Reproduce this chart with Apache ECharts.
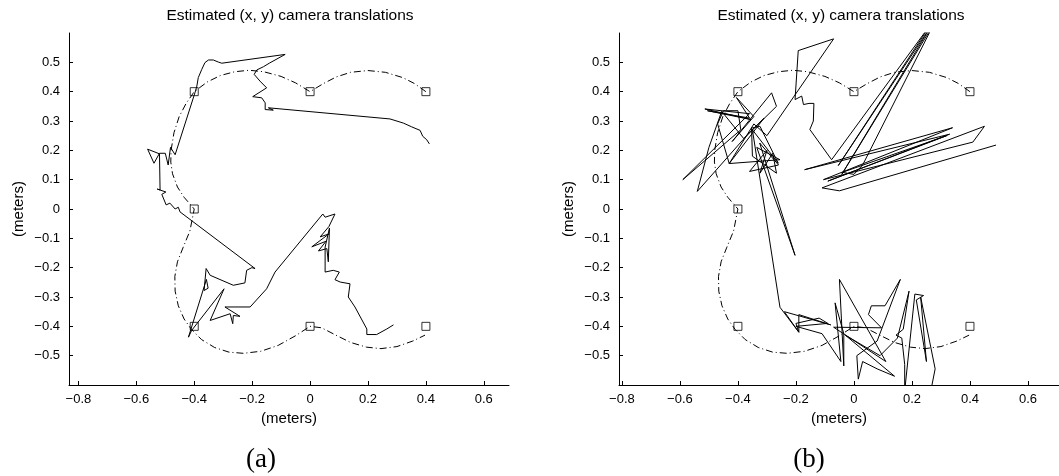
<!DOCTYPE html>
<html>
<head>
<meta charset="utf-8">
<script src="https://cdn.jsdelivr.net/npm/echarts@6/dist/echarts.min.js"></script>
<style>
  html, body { margin: 0; padding: 0; background: #fff; }
  #chart { width: 1059px; height: 476px; }
</style>
</head>
<body>
<div id="chart"></div>
<script>
const titleText = 'Estimated (x, y) camera translations';
const axisName = '(meters)';
const panelLabels = ['(a)', '(b)'];

// tick positions
const xTicks = [-0.8, -0.6, -0.4, -0.2, 0, 0.2, 0.4, 0.6];
const yTicks = [-0.5, -0.4, -0.3, -0.2, -0.1, 0, 0.1, 0.2, 0.3, 0.4, 0.5];

// key positions of the camera rig (squares)
const markers = [[-0.4, 0.4], [0, 0.4], [0.4, 0.4], [-0.4, 0], [-0.4, -0.4], [0, -0.4], [0.4, -0.4]];

// planned path (dash-dot)
const plannedPath = [
  [0.4, 0.4], [0.36, 0.428], [0.32, 0.448], [0.26, 0.466], [0.2, 0.472], [0.14, 0.466], [0.09, 0.45], [0.045, 0.427], [0, 0.4],
  [-0.05, 0.43], [-0.1, 0.452], [-0.16, 0.468], [-0.21, 0.473], [-0.26, 0.468], [-0.31, 0.455], [-0.355, 0.433], [-0.4, 0.4],
  [-0.428, 0.36], [-0.452, 0.315], [-0.47, 0.26], [-0.48, 0.2], [-0.481, 0.16], [-0.475, 0.12], [-0.458, 0.075], [-0.435, 0.04], [-0.4, 0],
  [-0.415, -0.075], [-0.438, -0.13], [-0.458, -0.18], [-0.467, -0.23], [-0.466, -0.28], [-0.455, -0.33], [-0.435, -0.375], [-0.41, -0.41],
  [-0.375, -0.445], [-0.33, -0.472], [-0.28, -0.488], [-0.23, -0.492], [-0.17, -0.485], [-0.11, -0.465], [-0.05, -0.432], [0, -0.4],
  [0.04, -0.405], [0.085, -0.428], [0.14, -0.455], [0.195, -0.471], [0.245, -0.476], [0.3, -0.469], [0.355, -0.45], [0.397, -0.43]
];

// estimated translations, panel (a)
const estimateA = [
  [0.412, 0.222], [0.403, 0.236], [0.389, 0.248], [0.38, 0.268], [0.351, 0.28], [0.322, 0.293], [0.276, 0.307],
  [-0.144, 0.345], [-0.127, 0.337], [-0.155, 0.339], [-0.155, 0.362], [-0.167, 0.379], [-0.198, 0.383], [-0.15, 0.413],
  [-0.173, 0.436], [-0.193, 0.459], [-0.184, 0.474], [-0.161, 0.485], [-0.141, 0.497], [-0.086, 0.527],
  [-0.305, 0.497], [-0.317, 0.501], [-0.334, 0.508], [-0.351, 0.508], [-0.363, 0.499], [-0.374, 0.476], [-0.386, 0.448],
  [-0.391, 0.419], [-0.397, 0.398],
  [-0.466, 0.185], [-0.482, 0.21], [-0.49, 0.15], [-0.5, 0.19], [-0.52, 0.19], [-0.539, 0.156], [-0.561, 0.204], [-0.52, 0.188],
  [-0.518, 0.065], [-0.528, 0.068], [-0.498, 0.058], [-0.512, 0.05], [-0.497, 0.014], [-0.484, 0.02], [-0.466, 0.0],
  [-0.455, 0.006], [-0.449, -0.01],
  [-0.19, -0.203], [-0.201, -0.2], [-0.219, -0.209], [-0.225, -0.252], [-0.265, -0.26], [-0.345, -0.226], [-0.359, -0.203],
  [-0.366, -0.278], [-0.352, -0.27], [-0.358, -0.24], [-0.42, -0.437], [-0.409, -0.414], [-0.297, -0.272], [-0.345, -0.38],
  [-0.276, -0.357], [-0.267, -0.391], [-0.265, -0.363], [-0.242, -0.366], [-0.294, -0.334], [-0.207, -0.334], [-0.15, -0.272],
  [-0.121, -0.215],
  [0.044, -0.017], [0.052, -0.028], [0.086, -0.017], [0.065, -0.06], [0.035, -0.095], [0.065, -0.085], [0.006, -0.129],
  [0.055, -0.11], [0.029, -0.143], [0.058, -0.135], [0.063, -0.18], [0.067, -0.065], [0.052, -0.13], [0.052, -0.215],
  [0.08, -0.209], [0.101, -0.215], [0.086, -0.241], [0.104, -0.249], [0.138, -0.255], [0.132, -0.3], [0.155, -0.334],
  [0.196, -0.409], [0.196, -0.428], [0.23, -0.428], [0.265, -0.409], [0.288, -0.395]
];

// estimated translations, panel (b)
const estimateB = [
  [0.49, 0.218], [-0.05, 0.062], [-0.11, 0.072], [0.45, 0.282], [0.41, 0.228], [-0.105, 0.1], [0.34, 0.277], [-0.17, 0.134],
  [0.33, 0.255], [-0.09, 0.095], [0.32, 0.25], [-0.04, 0.125], [0.0, 0.118], [0.03, 0.15],
  [0.275, 0.63], [-0.042, 0.118], [0.27, 0.63], [-0.054, 0.148], [0.265, 0.63], [-0.077, 0.168],
  [-0.152, 0.271], [-0.14, 0.3], [-0.138, 0.36], [-0.155, 0.36], [-0.174, 0.356], [-0.18, 0.385], [-0.203, 0.373],
  [-0.192, 0.54], [-0.07, 0.58], [-0.3, 0.25],
  [-0.345, 0.29], [-0.43, 0.155], [-0.47, 0.29], [-0.45, 0.335], [-0.4, 0.335], [-0.39, 0.27], [-0.59, 0.1], [-0.36, 0.325],
  [-0.514, 0.341], [-0.355, 0.305], [-0.505, 0.335], [-0.36, 0.31], [-0.405, 0.38], [-0.345, 0.315], [-0.42, 0.23],
  [-0.284, 0.396], [-0.267, 0.35], [-0.37, 0.25], [-0.54, 0.06], [-0.5, 0.21], [-0.456, 0.333], [-0.38, 0.24], [-0.31, 0.31],
  [-0.43, 0.155], [-0.255, 0.168], [-0.335, 0.21], [-0.203, -0.158], [-0.325, 0.225], [-0.26, 0.15], [-0.36, 0.128],
  [-0.3, 0.2], [-0.324, 0.122], [-0.28, 0.19], [-0.267, 0.122], [-0.35, 0.18], [-0.353, 0.276], [-0.324, 0.282],
  [-0.261, 0.156], [-0.35, 0.27], [-0.255, -0.335],
  [-0.19, -0.42], [-0.24, -0.35], [-0.08, -0.395], [-0.19, -0.36], [-0.19, -0.42], [-0.2, -0.39], [-0.12, -0.372],
  [-0.09, -0.39], [-0.2, -0.4], [-0.11, -0.425], [-0.045, -0.52], [-0.065, -0.32], [-0.035, -0.425], [-0.035, -0.535],
  [-0.05, -0.24], [0.11, -0.52], [-0.07, -0.403], [0.095, -0.405], [0.05, -0.36], [0.06, -0.33], [0.107, -0.33],
  [0.16, -0.24], [0.08, -0.45], [0.01, -0.5], [0.015, -0.58], [0.03, -0.52], [0.08, -0.545], [0.14, -0.57], [-0.03, -0.43],
  [0.09, -0.5], [0.15, -0.44], [0.19, -0.28], [0.17, -0.41], [0.145, -0.43], [0.165, -0.44], [0.175, -0.53], [0.175, -0.62],
  [0.21, -0.29], [0.24, -0.295], [0.215, -0.31], [0.25, -0.52], [0.23, -0.3], [0.28, -0.545], [0.265, -0.62]
];

const xRanges = [[-0.8325, 0.687], [-0.81, 0.707]];
const yRange = [-0.6, 0.6];

const sans = 'Liberation Sans, Arial, Helvetica, sans-serif';

function tickText(v) {
  return String(+Number(v).toFixed(1)).replace('-', '\u2212');
}

function makeAxis(i, range, ticks, gap, margin) {
  return {
    gridIndex: i,
    type: 'value',
    min: range[0],
    max: range[1],
    name: axisName,
    nameLocation: 'middle',
    nameGap: gap,
    nameTextStyle: { fontFamily: sans, fontSize: 15, color: '#000' },
    axisLine: { onZero: false, lineStyle: { color: '#000', width: 1 } },
    axisTick: { inside: true, length: 4, customValues: ticks, lineStyle: { color: '#000' } },
    axisLabel: {
      color: '#000', fontFamily: sans, fontSize: 13, margin: margin,
      customValues: ticks, formatter: tickText
    },
    splitLine: { show: false }
  };
}

function panelSeries(i, estimate) {
  return [
    {
      type: 'line', xAxisIndex: i, yAxisIndex: i, data: plannedPath,
      symbol: 'none', clip: true,
      lineStyle: { color: '#000', width: 1, type: [7, 3, 1, 3] }
    },
    {
      type: 'line', xAxisIndex: i, yAxisIndex: i, data: estimate,
      symbol: 'none', clip: true,
      lineStyle: { color: '#000', width: 1 }
    },
    {
      type: 'scatter', xAxisIndex: i, yAxisIndex: i, data: markers,
      symbol: 'rect', symbolSize: 8,
      itemStyle: { color: 'rgba(0,0,0,0)', borderColor: '#000', borderWidth: 1 }
    }
  ];
}

const labelStyle = { fontFamily: 'Liberation Serif, serif', fontSize: 27, fontWeight: 'normal', color: '#000' };
const titleStyle = { fontFamily: sans, fontSize: 15.5, fontWeight: 'normal', color: '#000' };

const chart = echarts.init(document.getElementById('chart'));
chart.setOption({
  animation: false,
  backgroundColor: '#fff',
  title: [
    { text: titleText, left: 290, top: 8, padding: 0, textAlign: 'center', textStyle: titleStyle },
    { text: titleText, left: 841, top: 8, padding: 0, textAlign: 'center', textStyle: titleStyle },
    { text: panelLabels[0], left: 261, top: 446, padding: 0, textAlign: 'center', textStyle: labelStyle },
    { text: panelLabels[1], left: 809, top: 446, padding: 0, textAlign: 'center', textStyle: labelStyle }
  ],
  grid: [
    { left: 69, top: 33, width: 440, height: 352 },
    { left: 619, top: 33, width: 440, height: 352 }
  ],
  xAxis: [makeAxis(0, xRanges[0], xTicks, 26, 8), makeAxis(1, xRanges[1], xTicks, 26, 8)],
  yAxis: [makeAxis(0, yRange, yTicks, 43, 9), makeAxis(1, yRange, yTicks, 43, 9)],
  series: [...panelSeries(0, estimateA), ...panelSeries(1, estimateB)]
});
</script>
</body>
</html>
